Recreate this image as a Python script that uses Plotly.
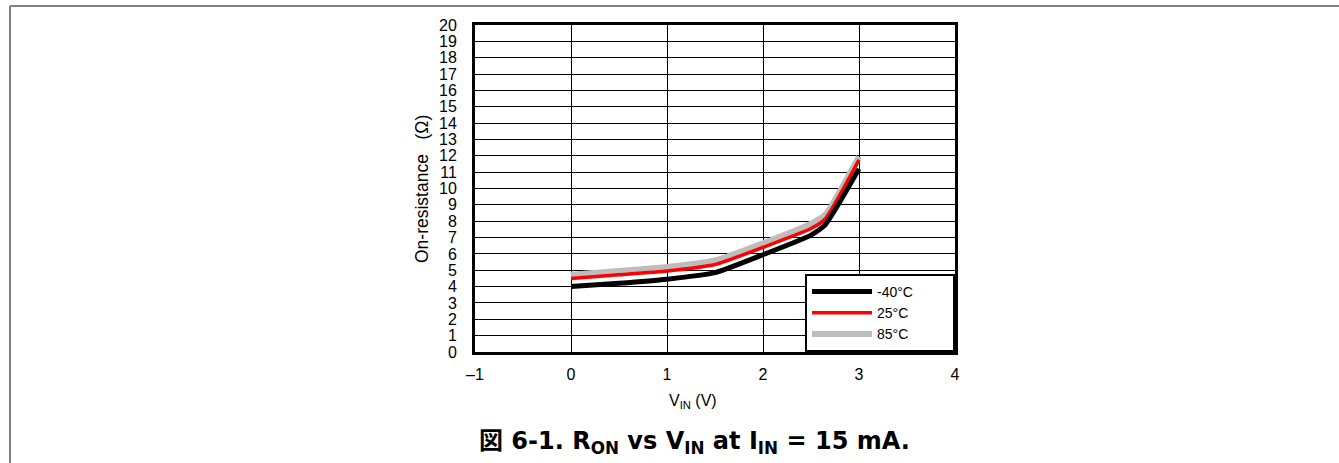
import plotly.graph_objects as go

# ---- data ----
v_in = [0, 0.5, 1, 1.5, 2, 2.5, 2.65, 3]
r_m40 = [4.0, 4.2, 4.45, 4.85, 5.95, 7.15, 7.8, 11.2]
r_25 = [4.5, 4.72, 4.95, 5.35, 6.4, 7.55, 8.15, 11.75]
r_85 = [4.72, 4.95, 5.2, 5.6, 6.65, 7.85, 8.4, 11.95]
series_names = ["-40°C", "25°C", "85°C"]
x_ticks = [-1, 0, 1, 2, 3, 4]
x_tick_text = ["\u20131", "0", "1", "2", "3", "4"]
y_ticks = list(range(0, 21))

# page is 1339x463; body margin is removed by a post script so page px == figure px
W, H = 1339, 463
PL, PR, PT, PB = 475, 955, 25, 352          # plot area in page pixels
ML, MT = PL, PT
PW, PH = PR - PL, PB - PT
MR = W - ML - PW
MB = H - MT - PH

def px2paper_x(px):
    return (px - ML) / PW

def px2paper_y(py):
    return (H - MB - py) / PH

FONT = "Liberation Sans, Arial, sans-serif"
PAD = "\u00a0" * 9

fig = go.Figure()
fig.add_trace(go.Scatter(x=v_in, y=r_85, name=series_names[2] + PAD, mode="lines",
                         line=dict(color="#bdbdbd", width=6, shape="spline", smoothing=0.5)))
fig.add_trace(go.Scatter(x=v_in, y=r_25, name=series_names[1] + PAD, mode="lines",
                         line=dict(color="#ff0000", width=3.5, shape="spline", smoothing=0.5)))
fig.add_trace(go.Scatter(x=v_in, y=r_m40, name=series_names[0] + PAD, mode="lines",
                         line=dict(color="#000000", width=5, shape="spline", smoothing=0.5)))

fig.update_layout(
    width=W, height=H,
    margin=dict(l=ML, r=MR, t=MT, b=MB, pad=0),
    paper_bgcolor="white", plot_bgcolor="white",
    font=dict(family=FONT, size=16, color="black"),
    showlegend=True,
    legend=dict(x=1, y=0, xanchor="right", yanchor="bottom",
                traceorder="reversed", bgcolor="white",
                bordercolor="black", borderwidth=2,
                font=dict(size=14, family=FONT),
                tracegroupgap=0, itemwidth=60),
    xaxis=dict(range=[-1, 4], tickvals=x_ticks, ticktext=x_tick_text,
               showgrid=True, gridcolor="black", gridwidth=1,
               zeroline=True, zerolinecolor="black", zerolinewidth=1,
               showline=True, linecolor="black", linewidth=3, mirror=True,
               ticks="", ticklabelstandoff=6,
               tickfont=dict(size=16, family=FONT)),
    yaxis=dict(range=[0, 20], tickvals=y_ticks,
               showgrid=True, gridcolor="black", gridwidth=1,
               zeroline=False,
               showline=True, linecolor="black", linewidth=3, mirror=True,
               ticks="", ticklabelstandoff=12,
               tickfont=dict(size=16, family=FONT)),
)

annotations = [
    dict(text="On-resistance\u00a0\u00a0\u00a0(Ω)", textangle=-90,
         x=px2paper_x(422), y=px2paper_y(189), xref="paper", yref="paper",
         xanchor="center", yanchor="middle", showarrow=False,
         font=dict(size=17.5, family=FONT)),
    dict(text="V<sub>IN</sub> (V)",
         x=px2paper_x(693), y=px2paper_y(401), xref="paper", yref="paper",
         xanchor="center", yanchor="middle", showarrow=False,
         font=dict(size=16, family=FONT)),
    dict(text="<b>図 6-1. R<sub>ON</sub> vs V<sub>IN</sub> at I<sub>IN</sub> = 15 mA.</b>",
         x=px2paper_x(694), y=px2paper_y(442), xref="paper", yref="paper",
         xanchor="center", yanchor="middle", showarrow=False,
         font=dict(size=24, family="DejaVu Sans, Noto Sans CJK JP, sans-serif")),
]
fig.update_layout(annotations=annotations)

# outer frame lines (gray) at top and left
fig.add_shape(type="line", xref="paper", yref="paper",
              x0=px2paper_x(10), x1=px2paper_x(W + 5), y0=px2paper_y(6), y1=px2paper_y(6),
              line=dict(color="#808080", width=2))
fig.add_shape(type="line", xref="paper", yref="paper",
              x0=px2paper_x(10), x1=px2paper_x(10), y0=px2paper_y(6), y1=px2paper_y(H + 5),
              line=dict(color="#808080", width=2))

fig.write_html("out.html",
               config={"displayModeBar": False},
               post_script="document.body.style.margin='0';document.body.style.overflow='hidden';")
